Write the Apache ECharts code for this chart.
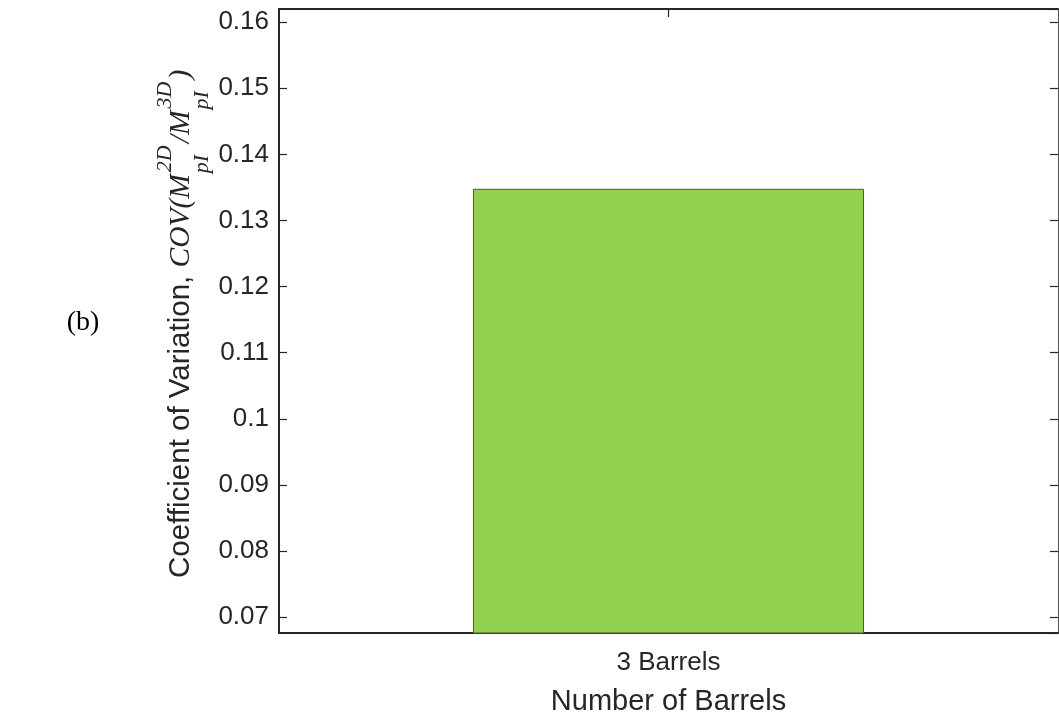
<!DOCTYPE html>
<html>
<head>
<meta charset="utf-8">
<script src="https://cdn.jsdelivr.net/npm/echarts@6/dist/echarts.min.js"></script>
<style>
html,body{margin:0;padding:0;background:#fff;}
#chart{width:1059px;height:721px;}
</style>
</head>
<body>
<div id="chart"></div>
<script>
const categories = ['3 Barrels'];
const covValues = [0.1348];
const yRange = [0.0676, 0.162];
const xAxisTitle = 'Number of Barrels';
const panelTag = '(b)';
const yTitleParts = ['Coefficient of Variation, ', 'COV(M', '2D', 'pI', '/M', '3D', 'pI', ')'];

const SANS = "'Liberation Sans', Arial, sans-serif";
const SERIF = "'Liberation Serif', 'Times New Roman', serif";
const AX = '#262626';

const mctx = document.createElement('canvas').getContext('2d');
function w(text, font){ mctx.font = font; return mctx.measureText(text).width; }

const fMain = "29.5px " + SANS;
const fIt = "italic 29.5px " + SERIF;
const fSm = "italic 22px " + SERIF;

const kids = [];
let u = 0;
function addMain(t, font){
  kids.push({type:'text', style:{text:t, x:u, y:0, font:font, fill:AX, align:'left', verticalAlign:'middle'}});
  u += w(t, font);
}
function addStack(sup, sub){
  kids.push({type:'text', style:{text:sup, x:u+2, y:-16, font:fSm, fill:AX, align:'left', verticalAlign:'middle'}});
  kids.push({type:'text', style:{text:sub, x:u+1, y:21, font:fSm, fill:AX, align:'left', verticalAlign:'middle'}});
  u += Math.max(w(sup, fSm), w(sub, fSm)) + 4;
}
addMain(yTitleParts[0], fMain);
addMain(yTitleParts[1], fIt);
addStack(yTitleParts[2], yTitleParts[3]);
addMain(yTitleParts[4], fIt);
addStack(yTitleParts[5], yTitleParts[6]);
addMain(yTitleParts[7], fIt);

const chart = echarts.init(document.getElementById('chart'), null, {renderer:'canvas'});
const option = {
  animation:false,
  backgroundColor:'#fff',
  grid:{left:279, right:1, top:9, bottom:85, containLabel:false},
  xAxis:[{
    type:'category', data:categories, position:'bottom',
    axisLine:{show:true, onZero:false, lineStyle:{color:AX, width:2}},
    axisTick:{show:true, inside:true, length:8, alignWithLabel:true, lineStyle:{color:AX, width:1.2}},
    axisLabel:{color:AX, fontSize:26, fontFamily:SANS, margin:17},
    name:xAxisTitle, nameLocation:'middle', nameGap:54,
    nameTextStyle:{color:AX, fontSize:29, fontFamily:SANS},
    splitLine:{show:false}
  },{
    type:'category', data:categories, position:'top',
    axisLine:{show:true, onZero:false, lineStyle:{color:AX, width:2}},
    axisTick:{show:true, inside:true, length:8, alignWithLabel:true, lineStyle:{color:AX, width:1.2}},
    axisLabel:{show:false}, splitLine:{show:false}
  }],
  yAxis:[{
    type:'value', min:yRange[0], max:yRange[1], splitNumber:10, position:'left',
    axisLine:{show:true, onZero:false, lineStyle:{color:AX, width:2}},
    axisTick:{show:true, inside:true, length:8, lineStyle:{color:AX, width:1.2}},
    axisLabel:{color:AX, fontSize:26, fontFamily:SANS, margin:10, showMinLabel:false, showMaxLabel:false},
    splitLine:{show:false}
  },{
    type:'value', min:yRange[0], max:yRange[1], splitNumber:10, position:'right',
    axisLine:{show:true, onZero:false, lineStyle:{color:'#555', width:1}},
    axisTick:{show:true, inside:true, length:8, lineStyle:{color:AX, width:1.2}},
    axisLabel:{show:false}, splitLine:{show:false}
  }],
  series:[{
    type:'bar', data:covValues, xAxisIndex:0, yAxisIndex:0,
    barWidth:'50.2%',
    itemStyle:{color:'#92D050', borderColor:'#4a5a3c', borderWidth:1}
  }],
  graphic:[
    {type:'group', x:181, y:578, rotation:Math.PI/2, children:kids},
    {type:'text', x:83, y:323, style:{text:panelTag, font:"28px " + SERIF, fill:'#000', align:'center', verticalAlign:'middle'}}
  ]
};
chart.setOption(option);
</script>
</body>
</html>
